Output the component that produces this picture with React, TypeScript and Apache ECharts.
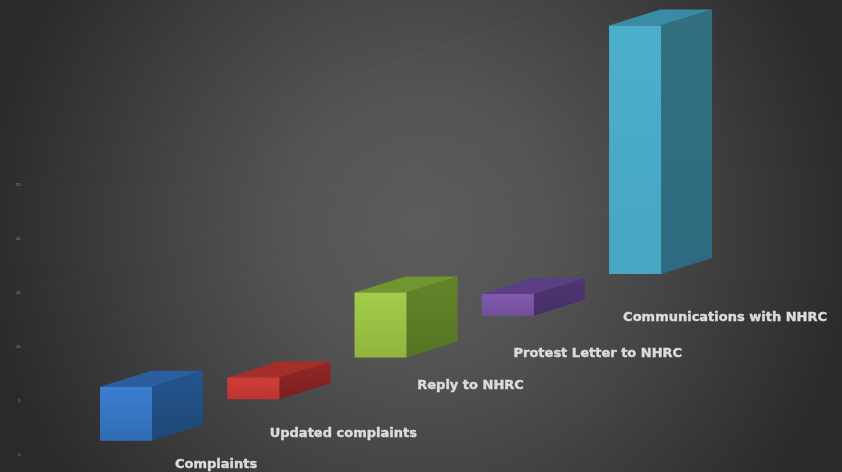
import React, { useEffect, useRef } from "react";
import * as echarts from "echarts";

const categories = ["Complaints", "Updated complaints", "Reply to NHRC", "Protest Letter to NHRC", "Communications with NHRC"];
const values = [5, 2, 6, 2, 23];
const yTicks = [0, 5, 10, 15, 20, 25];

const frontTop = ["#3b7fd0", "#d03d38", "#a3cd4b", "#8059ad", "#4bafcc"];
const frontBottom = ["#2f6cb4", "#bd3431", "#8fb53e", "#72509c", "#47a6c2"];
const sideTop = ["#23558f", "#93272a", "#638529", "#50356f", "#32707f"];
const sideBottom = ["#1e4876", "#7c1f1c", "#567423", "#472f66", "#2f6b80"];
const topFace = ["#2a5e9f", "#a52d2a", "#70962f", "#5b3e83", "#3a8ba5"];

// layout of the oblique projection
const floorSlope = 0.328;
const floorOrigin = 60;
const frontWidth = 52;
const depthX = 51;
const depthY = 16;
const labelShiftX = 90;
const labelDrop = [23, 33, 27, 37, 43];

const wallStart = 27;
const wallElbow = 663;
const wallEnd = 787;

const lift = (x: number) => (x - floorOrigin) * floorSlope;

function renderBar(params: any, api: any) {
  const idx = api.value(0);
  const v = api.value(1);
  const cx = api.coord([idx, 0])[0];
  const left = cx - frontWidth / 2;
  const right = left + frontWidth;
  const rise = lift(left);
  const bottom = api.coord([idx, 0])[1] - rise;
  const top = api.coord([idx, v])[1] - rise;
  const grad = (a: string, b: string) =>
    new echarts.graphic.LinearGradient(0, 0, 0, 1, [
      { offset: 0, color: a },
      { offset: 1, color: b },
    ]);
  return {
    type: "group",
    children: [
      {
        type: "polygon",
        shape: { points: [[left, top], [right, top], [right + depthX, top - depthY], [left + depthX, top - depthY]] },
        style: { fill: topFace[idx] },
      },
      {
        type: "polygon",
        shape: { points: [[right, top], [right + depthX, top - depthY], [right + depthX, bottom - depthY], [right, bottom]] },
        style: { fill: grad(sideTop[idx], sideBottom[idx]) },
      },
      {
        type: "polygon",
        shape: { points: [[left, top], [right, top], [right, bottom], [left, bottom]] },
        style: { fill: grad(frontTop[idx], frontBottom[idx]) },
      },
    ],
  };
}

function renderLabel(params: any, api: any) {
  const idx = api.value(0);
  const p = api.coord([idx, 0]);
  const bottom = p[1] - lift(p[0] - frontWidth / 2);
  return {
    type: "text",
    x: p[0] + labelShiftX,
    y: bottom + labelDrop[idx],
    style: {
      text: categories[idx],
      fill: "#dcdcdc",
      stroke: "#dcdcdc",
      lineWidth: 0.4,
      font: "bold 13px 'DejaVu Sans'",
      align: "center",
      verticalAlign: "middle",
    },
  };
}

function renderWall(params: any, api: any) {
  const v = api.value(0);
  const y0 = api.coord([0, v])[1];
  const elbowY = y0 - (wallElbow - wallStart) * 0.33;
  return {
    type: "polyline",
    shape: { points: [[wallStart, y0], [wallElbow, elbowY], [wallEnd, elbowY]] },
    style: { fill: "none", stroke: "rgba(255,255,255,0.028)", lineWidth: 1 },
  };
}

export default function App() {
  const ref = useRef<HTMLDivElement>(null);
  useEffect(() => {
    document.body.style.margin = "0";
    const chart = echarts.init(ref.current!, null, { renderer: "svg" });
    chart.setOption({
      animation: false,
      backgroundColor: "transparent",
      grid: { left: 62.4, width: 636.3, top: 184, bottom: 18 },
      xAxis: { type: "category", data: categories, show: false },
      yAxis: {
        type: "value",
        min: 0,
        max: 25,
        interval: 5,
        splitLine: { show: false },
        axisLine: { show: false },
        axisTick: { show: false },
        axisLabel: { fontSize: 4, color: "#9a9a9a", margin: 42 },
      },
      series: [
        {
          type: "custom",
          clip: false,
          coordinateSystem: "cartesian2d",
          renderItem: renderWall,
          encode: { y: 0 },
          data: yTicks.map((t) => [t]),
          silent: true,
          z: 1,
        },
        {
          type: "custom",
          clip: false,
          renderItem: renderBar,
          encode: { x: 0, y: 1 },
          data: values.map((v, i) => [i, v]),
          z: 2,
        },
        {
          type: "custom",
          clip: false,
          renderItem: renderLabel,
          encode: { x: 0, y: 1 },
          data: values.map((v, i) => [i, v]),
          z: 3,
        },
      ],
    });
    return () => chart.dispose();
  }, []);
  return (
    <div
      ref={ref}
      style={{
        width: 842,
        height: 472,
        filter: "blur(0.4px)",
        background:
          "radial-gradient(circle 440px at 421px 225px, #5c5c5c 0%, #545454 30%, #444444 58%, #2a2a2a 100%)",
      }}
    />
  );
}
